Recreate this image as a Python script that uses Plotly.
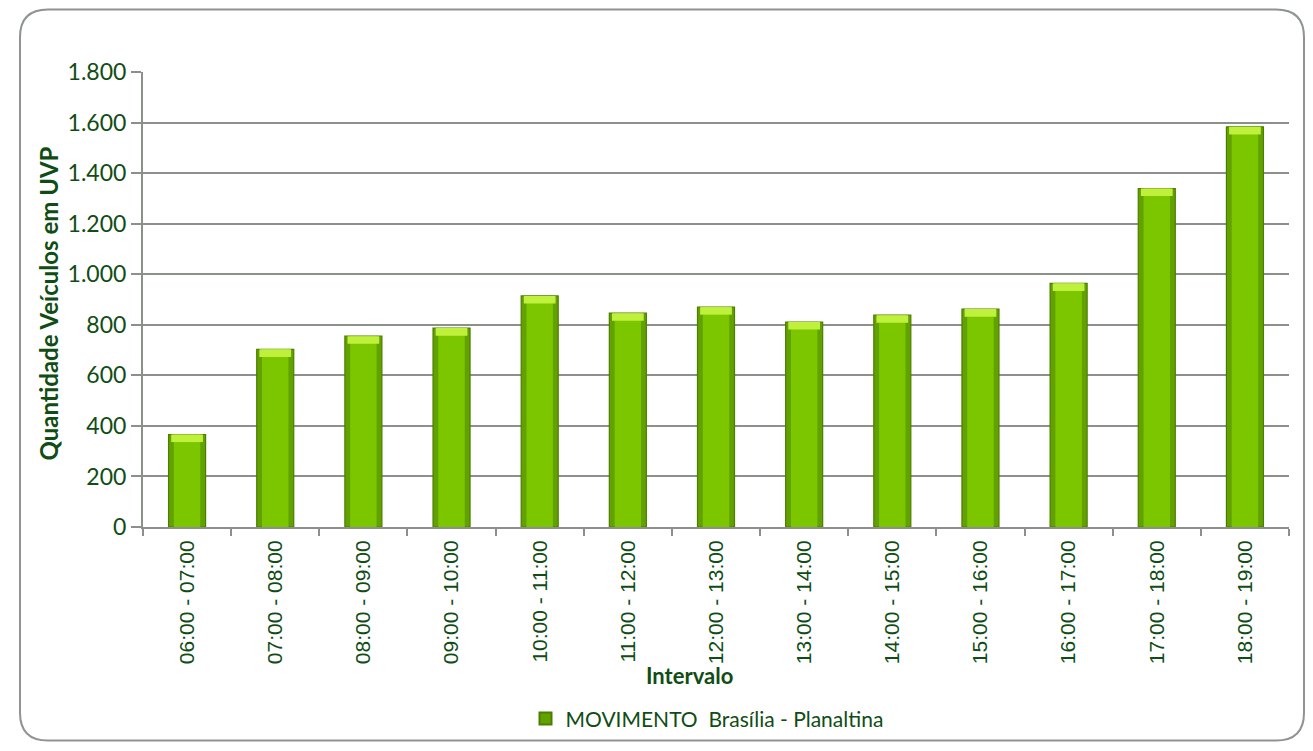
import plotly.graph_objects as go

categories = ["06:00 - 07:00", "07:00 - 08:00", "08:00 - 09:00", "09:00 - 10:00",
              "10:00 - 11:00", "11:00 - 12:00", "12:00 - 13:00", "13:00 - 14:00",
              "14:00 - 15:00", "15:00 - 16:00", "16:00 - 17:00", "17:00 - 18:00",
              "18:00 - 19:00"]
values = [366, 703, 755, 787, 914, 846, 870, 811, 838, 862, 964, 1339, 1583]
series_name = "MOVIMENTO\u00a0\u00a0Brasília - Planaltina"
y_ticks = [0, 200, 400, 600, 800, 1000, 1200, 1400, 1600, 1800]
y_tick_text = ["0", "200", "400", "600", "800", "1.000", "1.200", "1.400", "1.600", "1.800"]

W, H = 1313, 751
L, R, T, B = 143, 1289, 72, 530
TXT = "#0f4d14"
GRID = "#8b908b"

fig = go.Figure()
fig.add_trace(go.Bar(x=categories, y=values, name=series_name, width=0.42,
                     marker=dict(color="#62a200", line=dict(color="#4d7d00", width=1.2)),
                     showlegend=True))
fig.add_trace(go.Bar(x=categories, y=values, width=0.30, hoverinfo="skip",
                     marker=dict(color="#7cc600", line=dict(width=0)), showlegend=False))
cap = 30
fig.add_trace(go.Bar(x=categories, y=[cap] * len(values), base=[v - cap for v in values],
                     width=0.36, hoverinfo="skip",
                     marker=dict(color="#bff03c", line=dict(width=0)), showlegend=False))


def px(x):
    return (x - L) / (R - L)


def py(y):
    return (B - y) / (B - T)


x0, x1, y0, y1, r = 20, 1304, 9, 745, 28
path = (f"M {px(x0 + r)},{py(y0)} L {px(x1 - r)},{py(y0)} "
        f"Q {px(x1)},{py(y0)} {px(x1)},{py(y0 + r)} L {px(x1)},{py(y1 - r)} "
        f"Q {px(x1)},{py(y1)} {px(x1 - r)},{py(y1)} L {px(x0 + r)},{py(y1)} "
        f"Q {px(x0)},{py(y1)} {px(x0)},{py(y1 - r)} L {px(x0)},{py(y0 + r)} "
        f"Q {px(x0)},{py(y0)} {px(x0 + r)},{py(y0)} Z")

fig.update_layout(
    width=W, height=H,
    margin=dict(l=L, r=W - R, t=T, b=H - B, pad=0),
    paper_bgcolor="white", plot_bgcolor="white",
    barmode="overlay",
    separators=",.",
    font=dict(family="Lato", color=TXT),
    shapes=[dict(type="path", path=path, xref="paper", yref="paper",
                 line=dict(color="#8f948f", width=2), layer="below")],
    xaxis=dict(type="category", showline=True, linecolor=GRID, linewidth=2,
               ticks="outside", tickson="boundaries", ticklen=7, tickcolor=GRID, tickwidth=2,
               tickangle=-90, ticklabelstandoff=3,
               tickfont=dict(family="Liberation Sans, Arial", size=21, color=TXT),
               showgrid=False),
    yaxis=dict(range=[0, 1800], tickvals=y_ticks, ticktext=y_tick_text,
               showline=True, linecolor=GRID, linewidth=2,
               ticks="outside", ticklen=10, tickcolor=GRID, tickwidth=2,
               gridcolor=GRID, gridwidth=2, zeroline=False,
               tickfont=dict(family="Lato", size=23, color=TXT)),
    legend=dict(orientation="h", x=px(707), xanchor="center",
                y=py(723), yanchor="middle", font=dict(family="Lato", size=21, color=TXT),
                itemsizing="constant", itemwidth=30),
    annotations=[
        dict(text="<b>Quantidade Veículos em UVP</b>", xref="paper", yref="paper",
             x=px(48), y=py(305), textangle=-90, showarrow=False,
             xanchor="center", yanchor="middle",
             font=dict(family="Lato", size=24, color=TXT)),
        dict(text="<b>Intervalo</b>", xref="paper", yref="paper",
             x=px(689), y=py(679), showarrow=False, xanchor="center", yanchor="middle",
             font=dict(family="Lato", size=22, color=TXT)),
    ],
)

fig.write_html("out.html", config={"displayModeBar": False},
               post_script="document.body.style.margin='0';document.body.style.overflow='hidden';")
